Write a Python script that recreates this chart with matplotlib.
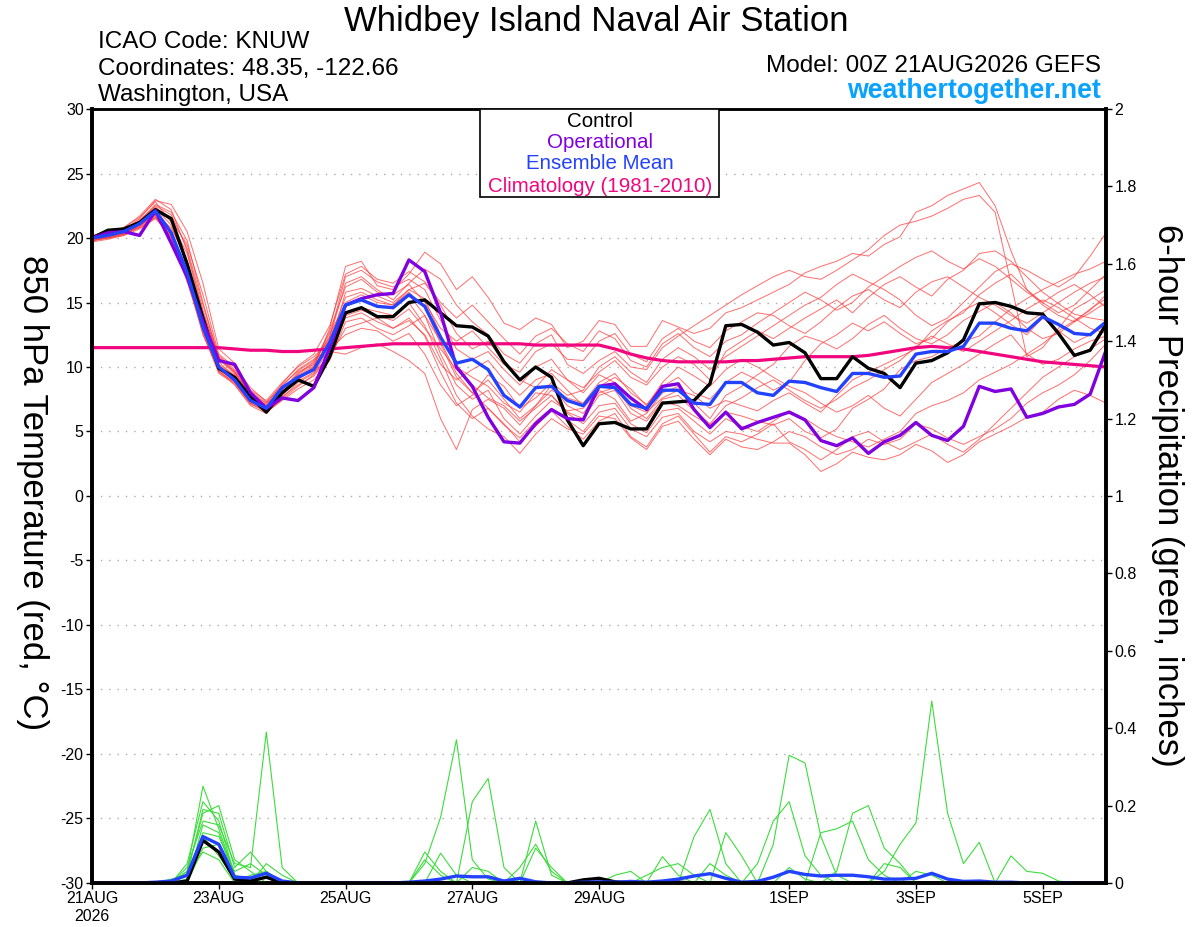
import matplotlib
matplotlib.use("Agg")
import matplotlib.pyplot as plt
from matplotlib.patches import Rectangle
from matplotlib.ticker import FuncFormatter

plt.rcParams['font.family'] = ['Liberation Sans', 'DejaVu Sans']
plt.rcParams['axes.unicode_minus'] = False

# 6-hourly forecast steps starting 00Z 21AUG2026 (x in days)
steps = list(range(65))
days = [s * 0.25 for s in steps]

tick_days = [0, 2, 4, 6, 8, 11, 13, 15]
tick_labels = ['21AUG\n2026', '23AUG', '25AUG', '27AUG', '29AUG', '1SEP', '3SEP', '5SEP']

# 850 hPa temperature (C)
ctrl_t = [20.0, 20.6, 20.7, 21.2, 22.2, 21.5, 18.0, 13.8, 9.9, 9.2, 7.7, 6.5, 8.0,
          9.0, 8.5, 10.8, 14.2, 14.6, 13.9, 13.9, 15.0, 15.2, 14.2, 13.2, 13.1, 12.4,
          10.4, 9.0, 10.0, 9.2, 5.9, 3.9, 5.6, 5.7, 5.2, 5.2, 7.2, 7.3, 7.4,
          8.7, 13.2, 13.3, 12.7, 11.7, 11.9, 11.1, 9.1, 9.1, 10.8, 9.9, 9.5, 8.4,
          10.3, 10.5, 11.1, 12.1, 14.9, 15.0, 14.7, 14.2, 14.1, 12.6, 10.9, 11.3, 13.3]
oper_t = [20.0, 20.4, 20.5, 20.2, 22.1, 19.6, 17.0, 13.5, 10.5, 10.2, 8.0, 6.8, 7.6,
          7.4, 8.4, 11.5, 14.8, 15.3, 15.6, 15.7, 18.3, 17.4, 14.2, 10.0, 8.5, 6.1,
          4.2, 4.1, 5.6, 6.7, 6.0, 5.9, 8.5, 8.7, 7.6, 6.7, 8.5, 8.7, 6.7,
          5.3, 6.5, 5.2, 5.7, 6.1, 6.5, 5.9, 4.3, 3.9, 4.5, 3.3, 4.2, 4.7,
          5.7, 4.7, 4.3, 5.4, 8.5, 8.1, 8.3, 6.1, 6.4, 6.9, 7.1, 7.9, 11.3]
mean_t = [20.0, 20.2, 20.5, 21.1, 22.1, 20.4, 17.3, 13.1, 10.0, 9.0, 7.4, 6.8, 8.4,
          9.2, 9.8, 11.9, 14.8, 15.2, 14.7, 14.6, 15.6, 14.7, 12.3, 10.3, 10.6, 9.8,
          7.8, 6.9, 8.4, 8.5, 7.4, 7.0, 8.5, 8.4, 7.1, 6.8, 8.2, 8.2, 7.2,
          7.1, 8.8, 8.8, 8.0, 7.8, 8.9, 8.8, 8.4, 8.1, 9.5, 9.5, 9.2, 9.3,
          11.0, 11.2, 11.2, 11.6, 13.4, 13.4, 13.0, 12.8, 13.9, 13.3, 12.6, 12.5, 13.5]
clim_t = [11.5, 11.5, 11.5, 11.5, 11.5, 11.5, 11.5, 11.5, 11.5, 11.4, 11.3, 11.3, 11.2,
          11.2, 11.3, 11.4, 11.5, 11.6, 11.7, 11.8, 11.8, 11.8, 11.8, 11.8, 11.8, 11.8,
          11.8, 11.8, 11.7, 11.7, 11.7, 11.7, 11.7, 11.4, 11.0, 10.7, 10.5, 10.4, 10.4,
          10.4, 10.4, 10.5, 10.5, 10.6, 10.7, 10.8, 10.8, 10.8, 10.8, 10.9, 11.1, 11.3,
          11.5, 11.6, 11.5, 11.4, 11.2, 11.0, 10.8, 10.6, 10.4, 10.3, 10.2, 10.1, 10.0]

# ensemble members, temperature
members_t = [
    [19.8, 20.1, 20.6, 21.5, 22.9, 22.6, 20.5, 16.5, 11.4, 10.3, 8.1, 7.2, 7.9, 9.1, 10.0, 13.0,
     17.8, 18.2, 16.3, 16.0, 17.2, 18.9, 18.0,
     16.0, 17.0, 15.4, 13.4, 12.9, 13.8, 13.3, 11.5,
     12.0, 13.6, 13.3, 11.6, 11.6, 13.6, 13.1, 12.6, 13.0, 14.2,
     14.6, 15.2, 15.8, 16.4, 17.3, 17.8, 18.2, 18.8, 18.6, 19.5,
     20.1, 22.0, 22.5, 23.3, 23.8, 24.3,
     22.5, 19.0, 16.0, 14.8, 14.0, 13.5, 14.2, 15.0],
    [20.0, 20.3, 20.6, 21.3, 22.5, 21.8, 19.2, 14.8, 10.8, 9.6, 7.8, 6.9, 8.0, 9.5, 10.4, 12.3,
     16.5, 17.0, 16.0, 15.2, 16.5, 17.6, 16.8,
     14.8, 13.5, 12.5, 11.0, 10.3, 11.8, 12.5, 10.2,
     9.5, 10.5, 11.2, 10.0, 9.8, 11.5, 12.4, 13.2, 14.0, 14.8,
     15.6, 16.3, 17.0, 17.5, 17.0, 16.8, 17.5, 18.3, 19.1, 20.2,
     21.0, 21.3, 21.7, 22.3, 23.0, 23.3,
     22.0, 16.5, 10.8, 11.5, 13.0, 14.5, 15.2, 16.0],
    [19.7, 19.9, 20.2, 20.9, 21.8, 20.3, 17.0, 12.8, 9.6, 8.8, 7.2, 6.5, 7.4, 8.3, 9.0, 10.5,
     13.5, 13.8, 13.0, 12.5, 13.2, 14.0, 12.0,
     9.5, 8.0, 6.8, 5.5, 4.5, 5.8, 6.8, 5.9,
     5.0, 6.5, 6.8, 5.2, 4.6, 6.1, 6.4, 5.0, 4.2, 5.0,
     4.8, 4.4, 4.1, 4.1, 3.2, 1.9, 2.5, 3.4, 3.0, 2.8,
     3.2, 4.0, 3.5, 2.6, 3.2, 4.2,
     4.8, 5.4, 6.1, 6.5, 7.5, 8.2, 7.8, 7.2],
    [20.1, 20.4, 20.7, 21.2, 22.3, 21.0, 18.0, 13.7, 10.2, 9.4, 7.6, 6.9, 8.2, 9.6, 10.2, 11.2,
     11.0, 11.5, 11.8, 11.2, 10.5, 9.5, 6.0,
     3.6, 6.7, 7.5, 6.8, 5.5, 7.0, 8.2, 7.6,
     7.2, 8.8, 9.5, 8.0, 7.1, 8.5, 9.2, 8.0, 7.5, 8.8,
     9.6, 9.0, 8.2, 8.8, 10.5, 11.8, 12.5, 13.4, 12.8, 13.5,
     12.6, 11.8, 12.2, 13.5, 14.4, 15.0,
     14.2, 13.3, 12.5, 13.8, 12.8, 11.9, 12.5, 13.3],
    [19.9, 20.0, 20.3, 20.8, 21.6, 20.0, 16.8, 12.5, 9.7, 8.6, 7.0, 6.4, 7.6, 8.8, 9.5, 11.5,
     15.8, 16.1, 15.5, 15.0, 16.0, 15.3, 12.5,
     10.0, 9.2, 8.5, 7.2, 6.5, 8.0, 7.8, 6.5,
     6.0, 7.8, 8.2, 6.4, 5.8, 7.3, 7.0, 6.2, 5.5, 6.5,
     6.2, 5.8, 5.5, 6.0, 5.0, 4.5, 5.2, 6.8, 7.5, 8.3,
     9.8, 10.5, 10.8, 11.5, 12.0, 12.4,
     13.5, 14.5, 15.3, 16.0, 16.6, 17.2, 17.6, 18.2],
    [20.0, 20.2, 20.4, 21.0, 22.0, 20.5, 17.5, 13.4, 10.4, 9.2, 7.7, 7.1, 8.6, 9.7, 10.5, 12.6,
     14.8, 15.2, 14.8, 14.5, 15.6, 14.0, 11.0,
     8.6, 7.5, 8.2, 6.0, 4.8, 6.2, 7.4, 6.6,
     6.8, 8.2, 7.5, 5.8, 6.4, 8.0, 8.5, 7.2, 6.0, 7.8,
     8.5, 9.4, 10.2, 11.6, 12.4, 12.0, 11.4, 12.2, 13.3, 14.0,
     13.0, 12.2, 11.8, 12.5, 13.6, 14.3,
     15.0, 14.2, 13.0, 12.2, 12.6, 13.5, 14.5, 15.3],
    [19.8, 20.0, 20.2, 20.7, 21.5, 20.2, 17.8, 14.0, 10.6, 9.5, 7.9, 7.0, 8.0, 8.9, 9.6, 10.8,
     13.0, 13.4, 13.8, 13.0, 13.6, 12.5, 10.2,
     9.0, 9.8, 10.5, 9.0, 7.8, 9.0, 9.5, 8.2,
     7.0, 8.5, 9.2, 8.3, 7.0, 8.8, 10.0, 9.3, 8.5, 9.8,
     10.6, 10.0, 9.2, 8.5, 8.0, 7.2, 6.5, 7.0, 7.8, 6.8,
     6.2, 7.5, 8.8, 9.5, 10.2, 11.0,
     11.8, 12.5, 11.0, 10.2, 10.6, 11.4, 12.0, 12.4],
    [20.2, 20.5, 20.8, 21.6, 22.8, 21.2, 18.8, 14.2, 10.9, 9.8, 8.2, 7.4, 8.8, 10.0, 10.8, 12.0,
     15.0, 15.6, 15.0, 14.8, 16.0, 16.5, 14.8,
     12.6, 11.4, 12.0, 10.5, 9.0, 8.4, 9.8, 9.0,
     8.4, 9.6, 10.5, 9.2, 8.6, 10.0, 10.8, 10.2, 9.0, 11.2,
     12.0, 12.8, 12.2, 13.0, 13.8, 14.5, 15.2, 14.2, 15.4, 16.4,
     17.0, 16.2, 15.5, 16.8, 17.5, 18.8,
     19.0, 18.2, 17.0, 15.8, 14.9, 14.1, 13.8, 13.6],
    [19.9, 20.1, 20.3, 21.0, 21.9, 20.0, 16.6, 12.8, 9.8, 8.9, 7.3, 6.6, 7.8, 9.0, 9.9, 12.0,
     14.2, 14.6, 14.3, 14.0, 15.0, 13.2, 10.6,
     7.8, 6.2, 5.2, 4.6, 3.3, 4.8, 6.0, 5.2,
     4.8, 6.2, 6.0, 4.5, 3.6, 5.4, 5.8, 4.4, 3.2, 4.4,
     3.8, 3.6, 4.2, 5.0, 4.6, 3.8, 3.2, 3.6, 4.4, 4.0,
     4.4, 5.6, 5.2, 4.5, 4.0, 4.6,
     5.2, 6.0, 7.2, 8.0, 8.6, 9.4, 10.5, 11.8],
    [20.1, 20.3, 20.6, 21.4, 22.4, 21.4, 19.5, 15.6, 11.0, 10.0, 8.4, 7.3, 8.5, 9.8, 10.6, 11.4,
     12.5, 13.0, 12.8, 12.0, 12.6, 11.0, 8.6,
     7.0, 7.8, 9.4, 8.5, 6.8, 7.6, 8.8, 7.8,
     8.2, 10.0, 10.8, 9.6, 8.8, 10.6, 11.5, 10.8, 9.8, 10.8,
     11.6, 12.4, 13.2, 14.0, 14.8, 15.4, 16.4, 17.2, 16.6, 16.0,
     15.2, 14.0, 13.2, 13.8, 15.0, 16.2,
     17.4, 18.0, 17.5, 16.8, 16.2, 17.0, 18.6, 20.4],
    [19.8, 20.0, 20.3, 20.9, 21.8, 20.8, 18.2, 13.5, 10.1, 9.3, 7.5, 6.8, 8.3, 9.4, 10.3, 12.4,
     17.0, 17.5, 16.6, 16.2, 16.8, 16.0, 13.6,
     11.4, 10.6, 11.2, 9.8, 8.6, 10.0, 10.6, 9.0,
     8.0, 9.4, 8.8, 7.0, 6.5, 7.6, 8.2, 7.8, 6.8, 7.4,
     7.0, 6.6, 7.4, 8.0, 7.2, 6.5, 7.8, 9.0, 9.6, 10.2,
     10.8, 11.4, 12.8, 13.6, 14.2, 15.6,
     16.5, 17.2, 16.0, 15.0, 15.8, 16.4, 15.6, 14.6],
    [20.0, 20.2, 20.5, 21.2, 22.2, 20.6, 17.0, 12.6, 9.5, 8.7, 7.1, 6.7, 7.7, 8.6, 9.3, 10.9,
     14.0, 14.4, 14.0, 13.6, 14.5, 13.0, 11.4,
     9.8, 8.6, 7.6, 7.0, 5.8, 6.8, 7.8, 6.4,
     5.6, 7.0, 7.2, 5.6, 4.9, 6.6, 6.8, 5.8, 4.8, 6.0,
     5.4, 5.0, 5.8, 6.6, 6.0, 5.2, 4.6, 4.2, 3.8, 4.4,
     5.0, 6.4, 7.0, 7.4, 8.0, 9.0,
     9.6, 10.2, 11.0, 11.8, 12.8, 13.6, 14.4, 15.6],
    [20.0, 20.3, 20.6, 21.3, 22.6, 22.0, 19.8, 15.0, 10.7, 9.7, 8.0, 7.0, 8.1, 9.3, 10.1, 12.8,
     16.2, 16.8, 15.8, 15.6, 16.4, 15.0, 13.0,
     12.0, 12.8, 11.5, 10.2, 9.6, 11.2, 11.8, 10.6,
     10.5, 12.0, 12.6, 11.0, 10.4, 12.2, 13.0, 12.0, 11.5, 12.8,
     13.5, 14.2, 14.0, 13.2, 12.6, 13.5, 14.6, 15.5, 16.0, 15.2,
     14.6, 15.8, 16.6, 17.0, 16.2, 15.4,
     14.8, 14.0, 13.4, 14.2, 15.0, 15.8, 16.5, 17.0],
    [19.9, 20.1, 20.4, 21.0, 21.7, 20.1, 16.9, 13.0, 9.9, 9.1, 7.5, 6.7, 8.1, 9.2, 10.0, 12.2,
     15.4, 15.8, 15.2, 14.8, 15.8, 14.6, 11.8,
     9.2, 8.0, 9.0, 7.5, 6.0, 7.0, 8.6, 7.0,
     6.4, 8.0, 8.4, 6.8, 6.0, 7.5, 7.8, 6.6, 5.6, 7.0,
     7.6, 8.4, 9.0, 8.2, 7.4, 6.8, 7.5, 8.4, 9.0, 9.8,
     10.5, 11.6, 12.4, 11.8, 11.2, 12.0,
     12.8, 13.6, 14.5, 15.2, 14.6, 13.8, 13.0, 12.6],
    [20.1, 20.4, 20.8, 21.7, 23.0, 22.2, 19.0, 14.4, 10.6, 9.6, 7.9, 7.2, 8.7, 10.1, 11.0, 13.2,
     17.2, 17.8, 16.8, 16.5, 17.4, 16.6, 15.0,
     13.8, 14.8, 13.5, 12.2, 11.0, 12.4, 13.0, 11.8,
     11.2, 12.8, 12.2, 10.5, 10.0, 11.8, 12.6, 11.5, 10.8, 12.0,
     12.5, 13.4, 14.2, 15.0, 15.8, 15.2, 14.4, 15.0, 16.2, 17.0,
     17.8, 18.5, 19.0, 18.2, 17.6, 18.4,
     17.8, 16.8, 15.8, 15.0, 14.2, 14.8, 16.0, 17.2],
    [19.8, 20.0, 20.3, 20.8, 21.6, 20.4, 17.2, 12.9, 9.7, 8.8, 7.2, 6.5, 7.5, 8.5, 9.4, 11.0,
     13.8, 14.2, 13.5, 13.0, 13.8, 12.4, 9.6,
     7.2, 6.0, 6.8, 5.6, 4.2, 5.4, 6.6, 5.4,
     4.4, 5.8, 6.4, 4.6, 3.8, 5.6, 6.2, 4.8, 3.4, 4.6,
     4.2, 4.8, 5.6, 4.2, 3.6, 2.8, 3.6, 4.6, 5.0, 4.2,
     3.6, 4.2, 4.8, 4.0, 3.4, 4.4,
     5.6, 6.8, 8.0, 9.2, 10.0, 10.8, 11.4, 12.2],
]

# 6-hour precipitation (inches)
ctrl_p = [0, 0, 0, 0, 0, 0, 0.005, 0.11, 0.08, 0.01, 0.005, 0.015, 0,
          0, 0, 0, 0, 0, 0, 0, 0, 0, 0, 0, 0, 0,
          0, 0, 0, 0, 0, 0.008, 0.012, 0.003, 0, 0, 0, 0.002, 0,
          0, 0, 0, 0, 0, 0, 0, 0, 0, 0, 0, 0, 0,
          0, 0, 0, 0, 0, 0, 0, 0, 0, 0, 0, 0, 0]
mean_p = [0, 0, 0, 0, 0.002, 0.005, 0.02, 0.12, 0.1, 0.015, 0.013, 0.025, 0.005,
          0, 0, 0, 0, 0, 0, 0, 0.002, 0.005, 0.01, 0.018, 0.016, 0.016,
          0.005, 0.012, 0.003, 0, 0, 0.002, 0.003, 0.002, 0.004, 0.002, 0.005, 0.01, 0.018,
          0.024, 0.012, 0.002, 0.004, 0.015, 0.03, 0.022, 0.018, 0.02, 0.02, 0.016, 0.01, 0.01,
          0.012, 0.025, 0.01, 0.004, 0.005, 0.002, 0.002, 0, 0, 0, 0, 0, 0]

members_p = [
    [0, 0, 0, 0, 0, 0, 0.03, 0.25, 0.14, 0.02, 0.01, 0, 0,
     0, 0, 0, 0, 0, 0, 0, 0, 0.05, 0.17, 0.37, 0.06, 0.01,
     0, 0, 0, 0, 0, 0, 0, 0, 0, 0, 0, 0, 0,
     0, 0, 0, 0, 0.10, 0.33, 0.31, 0.12, 0.02, 0, 0, 0, 0,
     0, 0, 0, 0, 0, 0, 0, 0, 0, 0, 0, 0, 0],
    [0, 0, 0, 0, 0, 0.01, 0.02, 0.19, 0.18, 0.04, 0.08, 0.03, 0,
     0, 0, 0, 0, 0, 0, 0, 0, 0, 0, 0, 0.21, 0.27,
     0.04, 0, 0, 0, 0, 0, 0, 0, 0, 0, 0, 0, 0,
     0, 0, 0, 0, 0, 0, 0, 0, 0, 0, 0, 0.03, 0.10,
     0.155, 0.47, 0.18, 0.05, 0.105, 0, 0.07, 0.03, 0.025, 0.005, 0, 0, 0],
    [0, 0, 0, 0, 0, 0, 0.04, 0.16, 0.15, 0.05, 0.04, 0.39, 0.04,
     0, 0, 0, 0, 0, 0, 0, 0, 0, 0, 0, 0, 0,
     0, 0, 0.16, 0.02, 0, 0, 0, 0, 0, 0, 0, 0, 0.12,
     0.19, 0.05, 0, 0, 0, 0, 0, 0, 0, 0, 0, 0, 0,
     0, 0, 0, 0, 0, 0, 0, 0, 0, 0, 0, 0, 0],
    [0, 0, 0, 0, 0, 0, 0.01, 0.13, 0.12, 0.03, 0.05, 0.02, 0,
     0, 0, 0, 0, 0, 0, 0, 0, 0.08, 0.03, 0, 0, 0,
     0, 0, 0, 0, 0, 0, 0, 0, 0, 0, 0.068, 0.02, 0,
     0, 0.13, 0.07, 0, 0, 0, 0, 0, 0, 0, 0, 0, 0,
     0, 0, 0, 0, 0, 0, 0, 0, 0, 0, 0, 0, 0],
    [0, 0, 0, 0, 0, 0, 0, 0.09, 0.10, 0.02, 0, 0, 0,
     0, 0, 0, 0, 0, 0, 0, 0, 0, 0.077, 0.02, 0, 0,
     0, 0.04, 0.10, 0.03, 0, 0, 0, 0, 0, 0, 0, 0, 0,
     0, 0, 0, 0.05, 0.16, 0.21, 0.07, 0.02, 0, 0, 0, 0, 0,
     0, 0, 0, 0, 0, 0, 0, 0, 0, 0, 0, 0, 0],
    [0, 0, 0, 0, 0, 0, 0.02, 0.08, 0.06, 0, 0.02, 0.03, 0,
     0, 0, 0, 0, 0, 0, 0, 0, 0, 0, 0, 0, 0,
     0, 0, 0, 0, 0, 0, 0, 0, 0, 0, 0, 0, 0,
     0, 0, 0, 0, 0, 0, 0, 0, 0.03, 0.18, 0.20, 0.09, 0.05,
     0, 0, 0, 0, 0, 0, 0, 0, 0, 0, 0, 0, 0],
    [0, 0, 0, 0, 0, 0, 0, 0.15, 0.13, 0.01, 0, 0, 0,
     0, 0, 0, 0, 0, 0, 0, 0, 0, 0, 0, 0.04, 0.03,
     0, 0, 0, 0, 0, 0, 0, 0, 0, 0, 0, 0, 0,
     0, 0, 0, 0, 0, 0, 0, 0.13, 0.14, 0.16, 0.06, 0.02, 0,
     0, 0, 0, 0, 0, 0, 0, 0, 0, 0, 0, 0, 0],
    [0, 0, 0, 0, 0, 0, 0.05, 0.21, 0.16, 0.02, 0, 0.05, 0.02,
     0, 0, 0, 0, 0, 0, 0, 0, 0.06, 0.02, 0, 0, 0,
     0, 0, 0, 0, 0, 0, 0, 0, 0, 0.02, 0.04, 0.05, 0.02,
     0, 0, 0, 0, 0, 0, 0, 0, 0, 0, 0, 0, 0,
     0.03, 0.02, 0, 0, 0, 0, 0, 0, 0, 0, 0, 0, 0],
    [0, 0, 0, 0, 0, 0, 0, 0.12, 0.07, 0.01, 0, 0, 0,
     0, 0, 0, 0, 0, 0, 0, 0, 0, 0, 0, 0, 0,
     0, 0, 0, 0, 0, 0, 0, 0, 0, 0, 0, 0, 0,
     0.05, 0.02, 0, 0, 0, 0.04, 0.01, 0, 0, 0, 0, 0.05, 0.04,
     0, 0, 0, 0, 0, 0, 0, 0, 0, 0, 0, 0, 0],
    [0, 0, 0, 0, 0, 0, 0.03, 0.18, 0.20, 0.06, 0.03, 0, 0,
     0, 0, 0, 0, 0, 0, 0, 0, 0, 0, 0, 0, 0,
     0, 0, 0.09, 0.04, 0, 0, 0, 0.02, 0.03, 0, 0, 0, 0,
     0, 0, 0, 0, 0, 0, 0, 0, 0, 0, 0, 0, 0,
     0, 0, 0, 0, 0, 0, 0, 0, 0, 0, 0, 0, 0],
]

temp_ticks = list(range(-30, 31, 5))
precip_ticks = [0, 0.2, 0.4, 0.6, 0.8, 1.0, 1.2, 1.4, 1.6, 1.8, 2.0]

c_ctrl = 'black'
c_oper = '#8000e0'
c_mean = '#2342ff'
c_clim = '#f0067e'

fig = plt.figure(figsize=(12, 9.27), dpi=100)
ax = fig.add_axes([0.0767, 0.0475, 0.845, 0.8349])
ax2 = ax.twinx()

for m in members_t:
    ax.plot(days, m, color='#ff3c3c', lw=0.7, alpha=0.75)
ax.plot(days, clim_t, color=c_clim, lw=2.3)
ax.plot(days, ctrl_t, color=c_ctrl, lw=2.4)
ax.plot(days, oper_t, color=c_oper, lw=2.4)
ax.plot(days, mean_t, color=c_mean, lw=2.4)

for m in members_p:
    ax2.plot(days, m, color='#3ddc3d', lw=0.8)
ax2.plot(days, ctrl_p, color=c_ctrl, lw=2.4)
ax2.plot(days, mean_p, color=c_mean, lw=2.4)

ax.set_xlim(0, 16)
ax.set_ylim(-30, 30)
ax2.set_ylim(0, 2)
ax.set_xticks(tick_days)
ax.set_xticklabels(tick_labels)
ax.set_yticks(temp_ticks)
ax2.set_yticks(precip_ticks)
ax2.yaxis.set_major_formatter(FuncFormatter(lambda v, p: '%g' % v))

ax.yaxis.grid(True, linestyle=(0, (1, 5)), color='#aaaaaa', lw=1)
ax.set_axisbelow(True)

ax.tick_params(axis='both', direction='out', length=4, width=1, labelsize=11.5, pad=2)
ax2.tick_params(axis='y', direction='out', length=4, width=1, labelsize=11.5, pad=2)

for a in (ax, ax2):
    for side in ('left', 'right', 'bottom'):
        a.spines[side].set_linewidth(2.6)
    a.spines['top'].set_linewidth(1.8)

# legend box
ax2.add_patch(Rectangle((0.3826, 0.886), 0.2357, 0.114, transform=ax.transAxes,
                        facecolor='white', edgecolor='black', lw=1.2, zorder=10))
leg_items = [('Control', c_ctrl), ('Operational', c_oper),
             ('Ensemble Mean', c_mean), ('Climatology (1981-2010)', c_clim)]
leg_y = [0.9845, 0.957, 0.929, 0.9005]
for (txt, col), yy in zip(leg_items, leg_y):
    ax2.text(0.501, yy, txt, color=col, fontsize=14.8, ha='center', va='center',
             transform=ax.transAxes, zorder=11)

# header texts
fig.text(0.497, 0.977, 'Whidbey Island Naval Air Station', fontsize=25,
         ha='center', va='center')
fig.text(0.0817, 0.955, 'ICAO Code: KNUW', fontsize=17.5, ha='left', va='center')
fig.text(0.0817, 0.926, 'Coordinates: 48.35, -122.66', fontsize=17.5, ha='left', va='center')
fig.text(0.0817, 0.897, 'Washington, USA', fontsize=17.5, ha='left', va='center')
fig.text(0.9175, 0.929, 'Model: 00Z 21AUG2026 GEFS', fontsize=17.5, ha='right', va='center')
fig.text(0.9175, 0.902, 'weathertogether.net', fontsize=19.3, fontweight='bold',
         color='#0aa2ff', ha='right', va='center')

fig.text(0.027, 0.469, '850 hPa Temperature (red, °C)', fontsize=25, rotation=270,
         ha='center', va='center')
fig.text(0.973, 0.466, '6-hour Precipitation (green, inches)', fontsize=25, rotation=270,
         ha='center', va='center')

fig.savefig('out.png', dpi=100)
